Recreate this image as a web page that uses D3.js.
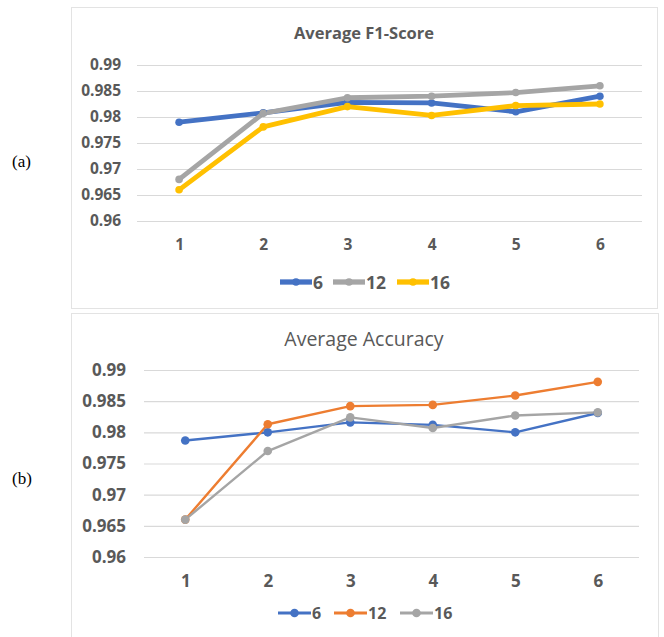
<!DOCTYPE html>
<html>
<head>
<meta charset="utf-8">
<script src="https://cdn.jsdelivr.net/npm/d3@7"></script>
<style>
  body { margin: 0; background: #fff; }
  svg { display: block; }
</style>
</head>
<body>
<div id="chart"></div>
<script>
// data
var xCats = ["1", "2", "3", "4", "5", "6"];
var yTicks = [0.96, 0.965, 0.97, 0.975, 0.98, 0.985, 0.99];
var seriesNames = ["6", "12", "16"];

var f1_6  = [0.9790, 0.9808, 0.9828, 0.9827, 0.9810, 0.9840];
var f1_12 = [0.9680, 0.9807, 0.9837, 0.9840, 0.9847, 0.9860];
var f1_16 = [0.9660, 0.9781, 0.9820, 0.9803, 0.9822, 0.9825];

var acc_6  = [0.9787, 0.9800, 0.9816, 0.9812, 0.9800, 0.9831];
var acc_12 = [0.9660, 0.9813, 0.9842, 0.9844, 0.9859, 0.9881];
var acc_16 = [0.9660, 0.9770, 0.9824, 0.9807, 0.9827, 0.9832];

var width = 664, height = 637;
var textColor = "#595959";
var gridColor = "#d9d9d9";
var font = "'Open Sans', sans-serif";

var svg = d3.select("#chart")
            .append("svg")
              .attr("width", width)
              .attr("height", height);

function panel(opt) {
    var g = svg.append("g");

    g.append("rect")
        .attr("x", opt.box[0] + 0.5)
        .attr("y", opt.box[1] + 0.5)
        .attr("width", opt.box[2])
        .attr("height", opt.box[3])
        .style("fill", "#fff")
        .style("stroke", "#e3e3e3");

    g.append("text")
        .attr("x", 364)
        .attr("y", opt.titleY)
        .attr("text-anchor", "middle")
        .attr("dominant-baseline", "central")
        .style("font-family", font)
        .style("font-size", opt.titleSize + "px")
        .style("font-weight", opt.titleWeight)
        .style("fill", textColor)
        .text(opt.title);

    var x = d3.scalePoint()
        .domain(xCats)
        .range([opt.plotX[0], opt.plotX[1]])
        .padding(0.5);

    var y = d3.scaleLinear()
        .domain([0.96, 0.99])
        .range([opt.plotY[1], opt.plotY[0]]);

    // gridlines + y labels
    var yAxis = g.append("g")
        .attr("transform", "translate(" + opt.plotX[0] + ",0)")
        .call(d3.axisLeft(y)
            .tickValues(yTicks)
            .tickSize(-(opt.plotX[1] - opt.plotX[0]))
            .tickPadding(opt.plotX[0] - opt.labelRight)
            .tickFormat(d => d3.format("")(+d.toFixed(3))));
    yAxis.select(".domain").remove();
    yAxis.selectAll("line").style("stroke", gridColor).style("stroke-width", 1.2);
    yAxis.selectAll("text")
        .style("font-family", font)
        .style("font-size", opt.tickSize + "px")
        .style("font-weight", "bold")
        .style("fill", textColor);

    // x labels
    var xAxis = g.append("g")
        .attr("transform", "translate(0," + opt.xLabelY + ")")
        .call(d3.axisBottom(x).tickSize(0).tickPadding(0));
    xAxis.select(".domain").remove();
    xAxis.selectAll("text")
        .attr("dy", "0.35em")
        .style("font-family", font)
        .style("font-size", opt.tickSize + "px")
        .style("font-weight", "bold")
        .style("fill", textColor);

    var line = d3.line()
        .x((d, i) => x(xCats[i]))
        .y(d => y(d));

    opt.series.forEach(function(s) {
        g.append("path")
            .datum(s.values)
            .attr("d", line)
            .style("fill", "none")
            .style("stroke", s.color)
            .style("stroke-width", opt.lineWidth)
            .style("stroke-linejoin", "round");
    });
    opt.series.forEach(function(s) {
        g.selectAll(null)
            .data(s.values)
            .enter().append("circle")
            .attr("cx", (d, i) => x(xCats[i]))
            .attr("cy", d => y(d))
            .attr("r", opt.markerR)
            .style("fill", s.color);
    });

    // legend
    var leg = g.append("g");
    opt.series.forEach(function(s, i) {
        var lx = opt.legendX[i];
        leg.append("line")
            .attr("x1", lx).attr("x2", lx + opt.legendLen)
            .attr("y1", opt.legendY).attr("y2", opt.legendY)
            .style("stroke", s.color)
            .style("stroke-width", opt.lineWidth + 0.5);
        leg.append("circle")
            .attr("cx", lx + opt.legendLen / 2)
            .attr("cy", opt.legendY)
            .attr("r", opt.markerR)
            .style("fill", s.color);
        leg.append("text")
            .attr("x", lx + opt.legendLen + 1)
            .attr("y", opt.legendY)
            .attr("dominant-baseline", "central")
            .style("font-family", font)
            .style("font-size", opt.legendSize + "px")
            .style("font-weight", "bold")
            .style("fill", textColor)
            .text(seriesNames[i]);
    });

    svg.append("text")
        .attr("x", 12)
        .attr("y", opt.tagY)
        .attr("dominant-baseline", "central")
        .style("font-family", "'Liberation Serif', 'Times New Roman', serif")
        .style("font-size", "17px")
        .style("fill", "#000")
        .text(opt.tag);
}

panel({
    box: [71, 7, 586, 301],
    title: "Average F1-Score", titleY: 32, titleSize: 16.5, titleWeight: "bold",
    plotX: [137, 642], plotY: [65, 221], labelRight: 121,
    xLabelY: 245, tickSize: 15.5,
    lineWidth: 4.8, markerR: 3.8,
    legendX: [280, 333, 397], legendLen: 32, legendY: 282, legendSize: 17.5,
    tag: "(a)", tagY: 161,
    series: [
        {values: f1_6, color: "#4472c4"},
        {values: f1_12, color: "#a5a5a5"},
        {values: f1_16, color: "#ffc000"}
    ]
});

panel({
    box: [71, 313, 587, 340],
    title: "Average Accuracy", titleY: 338, titleSize: 19.5, titleWeight: "normal",
    plotX: [144, 639], plotY: [370, 557], labelRight: 126,
    xLabelY: 581, tickSize: 17,
    lineWidth: 2.4, markerR: 4.3,
    legendX: [278, 334, 400], legendLen: 33, legendY: 613, legendSize: 16,
    tag: "(b)", tagY: 478,
    series: [
        {values: acc_6, color: "#4472c4"},
        {values: acc_12, color: "#ed7d31"},
        {values: acc_16, color: "#a5a5a5"}
    ]
});
</script>
</body>
</html>
